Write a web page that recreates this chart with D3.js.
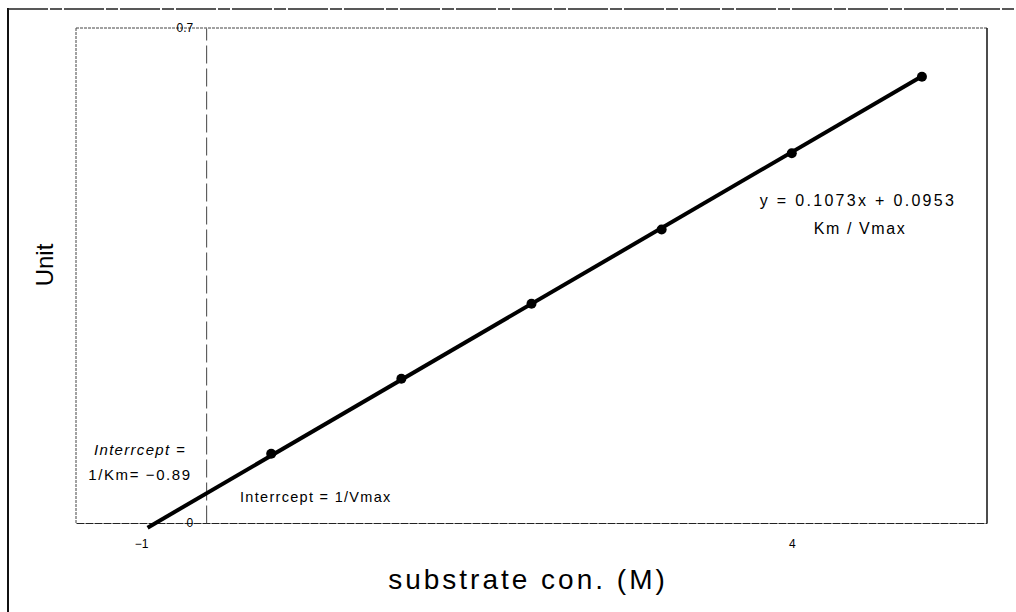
<!DOCTYPE html>
<html>
<head>
<meta charset="utf-8">
<script src="https://cdn.jsdelivr.net/npm/d3@7"></script>
<style>
  html, body { margin: 0; padding: 0; background: #fff; }
  svg { display: block; font-family: "Liberation Sans", Arial, sans-serif; }
</style>
</head>
<body>
<svg id="chart" width="1016" height="612"></svg>
<script>
// Substrate concentrations and measured responses
const substrate = [0, 1, 2, 3, 4, 5];
const unitValues = [0.098, 0.204, 0.310, 0.415, 0.523, 0.631];
// Fitted line y = slope * x + intercept
const slope = 0.1073;
const intercept = 0.0953;
const lineExtent = [-0.95, 5];
// Axis ticks
const xTicks = [-1, 4];
const yTicks = [0, 0.7];
const xDomain = [-1.5, 5.5];
const yDomain = [0, 0.7];
const yAxisAt = -0.5;

const svg = d3.select("#chart");
const plot = { left: 76, right: 987, top: 28, bottom: 523 };

const x = d3.scaleLinear().domain(xDomain).range([plot.left, plot.right]);
const y = d3.scaleLinear().domain(yDomain).range([plot.bottom, plot.top]);

// Outer frame (left and top edges)
svg.append("line").attr("x1", 8).attr("x2", 8).attr("y1", 8).attr("y2", 612)
  .attr("stroke", "#111").attr("stroke-width", 2);
svg.append("line").attr("x1", 8).attr("x2", 1016).attr("y1", 9).attr("y2", 9)
  .attr("stroke", "#222").attr("stroke-width", 1.5).attr("stroke-dasharray", "40,2,12,2");

// Plot area frame
svg.append("line").attr("x1", plot.left).attr("x2", plot.right).attr("y1", plot.top).attr("y2", plot.top)
  .attr("stroke", "#444").attr("stroke-width", 1).attr("stroke-dasharray", "3,1");
svg.append("line").attr("x1", plot.left).attr("x2", plot.left).attr("y1", plot.top).attr("y2", plot.bottom)
  .attr("stroke", "#444").attr("stroke-width", 1).attr("stroke-dasharray", "3,1");
svg.append("line").attr("x1", plot.right).attr("x2", plot.right).attr("y1", plot.top).attr("y2", plot.bottom)
  .attr("stroke", "#111").attr("stroke-width", 1.5);

// X axis along y = 0
const xAxis = svg.append("g")
  .attr("transform", `translate(0,${y(0)})`)
  .call(d3.axisBottom(x).tickValues(xTicks).tickSize(0).tickPadding(16).tickFormat(d3.format("d")));
xAxis.select(".domain").attr("stroke", "#222").attr("stroke-width", 1.2).attr("stroke-dasharray", "8,1");
xAxis.selectAll("text").attr("font-size", 12).attr("fill", "#000")
  .attr("font-family", "\"Liberation Sans\", Arial, sans-serif");

// Y axis crossing at x = -0.5
const yAxis = svg.append("g")
  .attr("transform", `translate(${x(yAxisAt)},0)`)
  .call(d3.axisLeft(y).tickValues(yTicks).tickSize(0).tickPadding(13).tickFormat(d => d === 0 ? "0" : d3.format(".1f")(d)));
yAxis.select(".domain").attr("stroke", "#444").attr("stroke-width", 1).attr("stroke-dasharray", "18,5");
yAxis.selectAll("text").attr("font-size", 12).attr("fill", "#000")
  .attr("font-family", "\"Liberation Sans\", Arial, sans-serif");

// Fitted line
const fit = lineExtent.map(v => [v, slope * v + intercept]);
svg.append("path")
  .datum(fit)
  .attr("fill", "none")
  .attr("stroke", "#000")
  .attr("stroke-width", 4)
  .attr("d", d3.line().x(d => x(d[0])).y(d => y(d[1])));

// Data points
svg.append("g").selectAll("circle")
  .data(substrate.map((s, i) => [s, unitValues[i]]))
  .join("circle")
  .attr("cx", d => x(d[0]))
  .attr("cy", d => y(d[1]))
  .attr("r", 5)
  .attr("fill", "#000");

// Annotations
const note = (tx, ty, text, opts = {}) => svg.append("text")
  .attr("x", tx).attr("y", ty)
  .attr("text-anchor", opts.anchor || "start")
  .attr("dominant-baseline", "middle")
  .attr("font-size", opts.size || 15)
  .attr("letter-spacing", opts.spacing != null ? opts.spacing : 1.2)
  .attr("font-style", opts.italic ? "italic" : "normal")
  .attr("fill", "#000")
  .text(text);

note(858, 202, "y = 0.1073x + 0.0953", { anchor: "middle", size: 16, spacing: 2.3 });
note(860, 230, "Km / Vmax", { anchor: "middle", size: 16, spacing: 1.6 });
note(140, 451, "Interrcept =", { anchor: "middle", size: 15, italic: true, spacing: 1.3 });
note(140, 476, "1/Km= \u22120.89", { anchor: "middle", size: 15, spacing: 1.6 });
note(240, 498, "Interrcept = 1/Vmax", { size: 14.5, spacing: 1.3 });

// Axis titles
svg.append("text")
  .attr("x", 528).attr("y", 582)
  .attr("text-anchor", "middle")
  .attr("dominant-baseline", "middle")
  .attr("font-size", 28)
  .attr("letter-spacing", 3)
  .attr("fill", "#000")
  .text("substrate con. (M)");

svg.append("text")
  .attr("transform", "translate(47,265) rotate(-90)")
  .attr("text-anchor", "middle")
  .attr("dominant-baseline", "middle")
  .attr("font-size", 24)
  .attr("fill", "#000")
  .text("Unit");
</script>
</body>
</html>
